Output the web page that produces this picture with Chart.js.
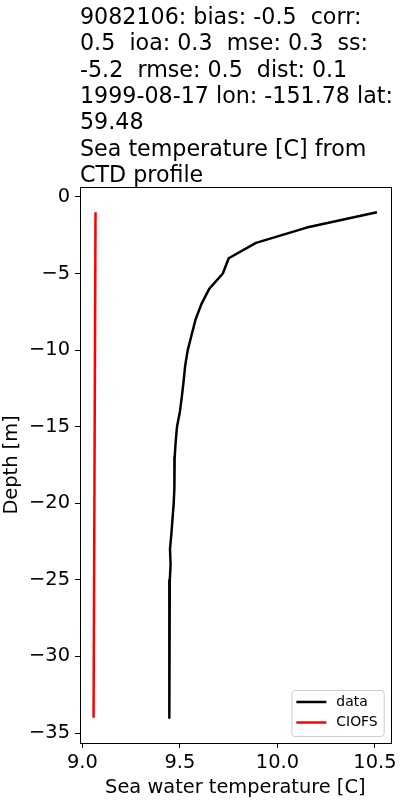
<!DOCTYPE html>
<html>
<head>
<meta charset="utf-8">
<script src="https://cdn.jsdelivr.net/npm/chart.js@4"></script>
<style>
  html, body { margin: 0; padding: 0; background: #fff; }
</style>
</head>
<body>
<canvas id="profile_canvas" width="400" height="800"></canvas>
<script>
var titleLines = [
    "9082106: bias: -0.5  corr:",
    "0.5  ioa: 0.3  mse: 0.3  ss:",
    "-5.2  rmse: 0.5  dist: 0.1",
    "1999-08-17 lon: -151.78 lat:",
    "59.48",
    "Sea temperature [C] from",
    "CTD profile"
];

// observed CTD cast (depth in m, temp in C)
var depths = [-1, -2, -3, -4, -5, -6, -7, -8, -9, -10, -11, -12, -13, -14, -15, -16, -17,
              -18, -19, -20, -21, -22, -23, -24, -25, -26, -27, -28, -29, -30, -31, -32, -33, -34];
var dataTemps = [10.51, 10.15, 9.89, 9.75, 9.72, 9.65, 9.61, 9.58, 9.56, 9.54, 9.527, 9.519, 9.51,
                 9.50, 9.485, 9.478, 9.473, 9.472, 9.471, 9.468, 9.462, 9.456, 9.449, 9.452, 9.448,
                 9.446, 9.444, 9.445, 9.445, 9.446, 9.446, 9.446, 9.446, 9.446];

// model profile (reads as a straight line top to bottom)
var modelDepths = [-1, -34];
var modelTemps = [9.067, 9.057];

var xTicks = [9.0, 9.5, 10.0, 10.5];
var xTickLabels = ["9.0", "9.5", "10.0", "10.5"];
var yTicks = [0, -5, -10, -15, -20, -25, -30, -35];
var yTickLabels = ["0", "\u22125", "\u221210", "\u221215", "\u221220", "\u221225", "\u221230", "\u221235"];
var xRange = [8.9875, 10.5805];
var yRange = [-35.65, 0.65];

var seriesNames = ["data", "CIOFS"];
var seriesColors = ["#000000", "#ff0000"];

var FONT = "'DejaVu Sans', sans-serif";

function toPoints(xs, ys) {
    var pts = [];
    for (var i = 0; i < xs.length; i++) {
        pts.push({x: xs[i], y: ys[i]});
    }
    return pts;
}

var titlePlugin = {
    id: 'mplTitle',
    afterDraw: function(chart) {
        var ctx = chart.ctx;
        ctx.save();
        ctx.fillStyle = '#000';
        ctx.font = '22.2px ' + FONT;
        ctx.textAlign = 'left';
        ctx.textBaseline = 'alphabetic';
        titleLines.forEach(function(line, i) {
            ctx.fillText(line, chart.chartArea.left, 24 + i * 26.3);
        });
        ctx.restore();
    }
};

var framePlugin = {
    id: 'frame',
    afterDraw: function(chart) {
        var a = chart.chartArea;
        var ctx = chart.ctx;
        ctx.save();
        ctx.strokeStyle = '#000';
        ctx.lineWidth = 1;
        ctx.strokeRect(Math.round(a.left) + 0.5, Math.round(a.top) + 0.5,
                       Math.round(a.right - a.left), Math.round(a.bottom - a.top));
        ctx.restore();
    }
};

var legendPlugin = {
    id: 'mplLegend',
    afterDraw: function(chart) {
        var a = chart.chartArea;
        var ctx = chart.ctx;
        ctx.save();
        ctx.font = '13.9px ' + FONT;
        var textW = 0;
        chart.data.datasets.forEach(function(ds) {
            textW = Math.max(textW, ctx.measureText(ds.label).width);
        });
        var w = 5 + 30 + 10 + textW + 6;
        var h = 46;
        var x = a.right - 7 - w;
        var y = a.bottom - 7 - h;
        ctx.beginPath();
        ctx.roundRect(x + 0.5, y + 0.5, w, h, 3);
        ctx.fillStyle = 'rgba(255,255,255,0.8)';
        ctx.fill();
        ctx.strokeStyle = '#cccccc';
        ctx.lineWidth = 1;
        ctx.stroke();
        chart.data.datasets.forEach(function(ds, i) {
            var ly = y + 12 + i * 20.5;
            ctx.beginPath();
            ctx.moveTo(x + 5, ly);
            ctx.lineTo(x + 35, ly);
            ctx.strokeStyle = ds.borderColor;
            ctx.lineWidth = 2.5;
            ctx.stroke();
            ctx.fillStyle = '#000';
            ctx.textBaseline = 'middle';
            ctx.fillText(ds.label, x + 45, ly);
        });
        ctx.restore();
    }
};

var profileConfig = {
    type: 'scatter',
    data: {
        datasets: [{
            label: seriesNames[0],
            data: toPoints(dataTemps, depths),
            borderColor: seriesColors[0],
            backgroundColor: seriesColors[0],
            borderWidth: 2.5,
            borderJoinStyle: 'round',
            showLine: true,
            pointRadius: 0,
            fill: false
        }, {
            label: seriesNames[1],
            data: toPoints(modelTemps, modelDepths),
            borderColor: seriesColors[1],
            backgroundColor: seriesColors[1],
            borderWidth: 2.5,
            borderJoinStyle: 'round',
            showLine: true,
            pointRadius: 0,
            fill: false
        }]
    },
    options: {
        responsive: false,
        animation: false,
        devicePixelRatio: 1,
        layout: {padding: {top: 187, right: 9, bottom: 0, left: 0}},
        plugins: {
            legend: {display: false},
            title: {display: false},
            tooltip: {enabled: false}
        },
        scales: {
            x: {
                type: 'linear',
                min: xRange[0],
                max: xRange[1],
                afterBuildTicks: function(scale) {
                    scale.ticks = xTicks.map(function(v) { return {value: v}; });
                },
                afterFit: function(scale) { scale.height = 57; },
                ticks: {
                    color: '#000',
                    font: {family: FONT, size: 19.4},
                    padding: 3,
                    maxRotation: 0,
                    autoSkip: false,
                    callback: function(value, index) { return xTickLabels[index]; }
                },
                grid: {drawOnChartArea: false, drawTicks: true, tickLength: 5, color: '#000'},
                border: {color: '#000', width: 1},
                title: {
                    display: true,
                    text: 'Sea water temperature [C]',
                    color: '#000',
                    font: {family: FONT, size: 19.4},
                    padding: {top: 2, bottom: 0}
                }
            },
            y: {
                type: 'linear',
                min: yRange[0],
                max: yRange[1],
                afterBuildTicks: function(scale) {
                    scale.ticks = yTicks.map(function(v) { return {value: v}; });
                },
                afterFit: function(scale) { scale.width = 80; },
                ticks: {
                    color: '#000',
                    font: {family: FONT, size: 19.4},
                    padding: 5,
                    autoSkip: false,
                    callback: function(value, index) { return yTickLabels[index]; }
                },
                grid: {drawOnChartArea: false, drawTicks: true, tickLength: 5, color: '#000'},
                border: {color: '#000', width: 1},
                title: {
                    display: true,
                    text: 'Depth [m]',
                    color: '#000',
                    font: {family: FONT, size: 19.4},
                    padding: {top: 0, bottom: 4}
                }
            }
        }
    },
    plugins: [titlePlugin, framePlugin, legendPlugin]
};

var ctx = document.getElementById("profile_canvas").getContext("2d");
window.profileChart = new Chart(ctx, profileConfig);
</script>
</body>
</html>
